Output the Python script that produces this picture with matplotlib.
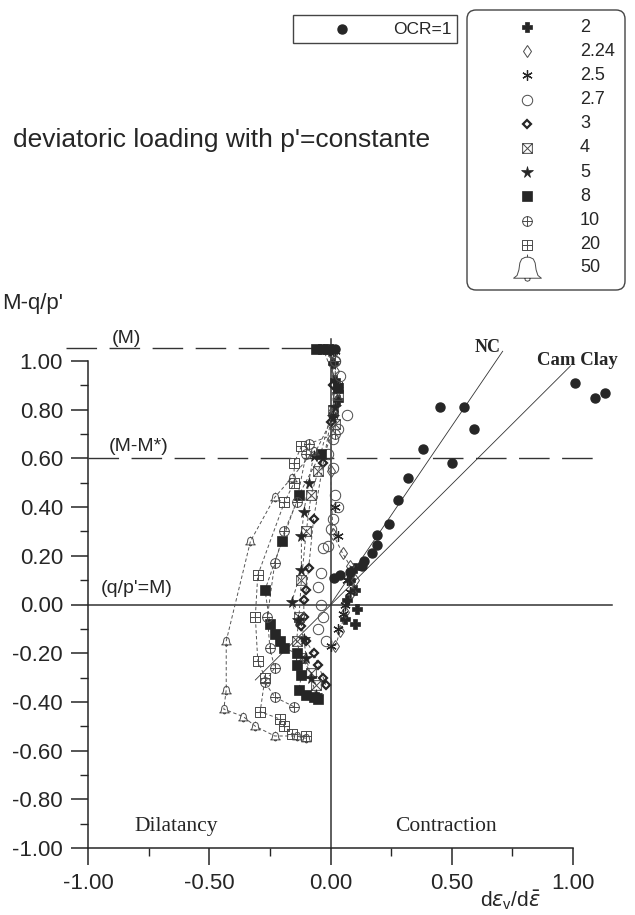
import numpy as np
import matplotlib.pyplot as plt
from matplotlib.path import Path
from matplotlib.patches import FancyBboxPatch, Rectangle

plt.rcParams['font.family'] = ['Liberation Sans', 'DejaVu Sans']
plt.rcParams['axes.unicode_minus'] = False

# --- data: x = d eps_v / d eps, y = M - q/p' ---
ocr1_x = [0.00, 0.02, 0.015, 0.04, 0.08, 0.13, 0.14, 0.17, 0.19, 0.19, 0.24, 0.28, 0.32, 0.50, 0.38, 0.59, 0.45, 0.55, 1.01, 1.09, 1.13]
ocr1_y = [1.05, 1.05, 0.11, 0.12, 0.135, 0.16, 0.18, 0.21, 0.245, 0.285, 0.33, 0.43, 0.52, 0.58, 0.64, 0.72, 0.81, 0.81, 0.91, 0.85, 0.87]

ocr2_x = [0.00, 0.01, 0.02, 0.03, 0.10, 0.08, 0.10, 0.07, 0.11, 0.06, 0.10]
ocr2_y = [1.05, 0.99, 0.92, 0.84, 0.15, 0.10, 0.06, 0.02, -0.02, -0.06, -0.08]

ocr224_x = [0.01, 0.02, 0.01, 0.00, 0.01, 0.05, 0.08, 0.10, 0.09, 0.06, 0.04, 0.02]
ocr224_y = [1.03, 0.96, 0.80, 0.55, 0.29, 0.21, 0.16, 0.10, 0.05, -0.03, -0.11, -0.17]

ocr25_x = [0.02, 0.03, 0.01, 0.02, 0.03, 0.07, 0.08, 0.06, 0.05, 0.03, 0.00]
ocr25_y = [1.04, 0.90, 0.78, 0.40, 0.28, 0.10, 0.05, 0.00, -0.04, -0.10, -0.17]

ocr27_x = [0.02, 0.04, 0.07, 0.03, 0.01, -0.01, 0.01, 0.02, 0.03, 0.01, 0.00, -0.01, -0.03, -0.04, -0.05, -0.04, -0.03, -0.05, -0.02]
ocr27_y = [1.00, 0.94, 0.78, 0.72, 0.68, 0.62, 0.56, 0.45, 0.40, 0.35, 0.31, 0.24, 0.23, 0.13, 0.07, 0.00, -0.05, -0.10, -0.15]

ocr3_x = [0.00, 0.01, 0.00, -0.03, -0.07, -0.09, -0.10, -0.11, -0.11, -0.12, -0.10, -0.07, -0.05, -0.03, -0.02]
ocr3_y = [1.04, 0.90, 0.75, 0.58, 0.35, 0.15, 0.06, 0.02, -0.05, -0.09, -0.15, -0.20, -0.25, -0.30, -0.33]

ocr4_x = [-0.01, 0.03, 0.01, 0.02, -0.05, -0.08, -0.10, -0.12, -0.13, -0.14, -0.12, -0.08, -0.06]
ocr4_y = [1.05, 0.86, 0.80, 0.74, 0.55, 0.45, 0.30, 0.10, -0.05, -0.15, -0.22, -0.28, -0.33]

ocr5_x = [0.00, 0.02, 0.01, -0.07, -0.09, -0.11, -0.12, -0.12, -0.16, -0.135, -0.11, -0.10, -0.08, -0.06]
ocr5_y = [1.04, 0.81, 0.77, 0.61, 0.50, 0.38, 0.28, 0.14, 0.01, -0.065, -0.14, -0.22, -0.30, -0.37]

ocr8_x = [-0.06, -0.03, 0.03, -0.04, -0.13, -0.20, -0.27, -0.25, -0.23, -0.21, -0.19, -0.14, -0.14, -0.12, -0.13, -0.10, -0.07, -0.05]
ocr8_y = [1.05, 1.05, 0.89, 0.62, 0.45, 0.26, 0.06, -0.08, -0.12, -0.15, -0.18, -0.20, -0.25, -0.29, -0.35, -0.37, -0.38, -0.39]

ocr10_x = [0.02, 0.02, -0.09, -0.10, -0.14, -0.19, -0.23, -0.26, -0.25, -0.23, -0.27, -0.23, -0.15]
ocr10_y = [1.00, 0.70, 0.66, 0.62, 0.42, 0.30, 0.17, -0.05, -0.18, -0.26, -0.32, -0.38, -0.42]

ocr20_x = [-0.12, -0.15, -0.15, -0.19, -0.30, -0.31, -0.30, -0.27, -0.29, -0.21, -0.19, -0.16, -0.10]
ocr20_y = [0.65, 0.58, 0.50, 0.42, 0.12, -0.05, -0.23, -0.30, -0.44, -0.47, -0.50, -0.53, -0.54]

ocr50_x = [-0.07, -0.16, -0.23, -0.33, -0.43, -0.43, -0.44, -0.36, -0.31, -0.23, -0.14, -0.10]
ocr50_y = [0.63, 0.52, 0.44, 0.26, -0.15, -0.35, -0.43, -0.46, -0.50, -0.54, -0.54, -0.55]

ocr_labels = ['2', '2.24', '2.5', '2.7', '3', '4', '5', '8', '10', '20', '50']

# reference lines
m_level = 1.053
m_star_level = 0.60
nc_x = [0.0, 0.71]
nc_y = [0.0, 1.04]
cam_x = [-0.31, 0.99]
cam_y = [-0.31, 0.98]

# --- custom markers ---
MO, LI, CL = Path.MOVETO, Path.LINETO, Path.CLOSEPOLY
hline = Path([[-1, 0], [1, 0]], [MO, LI])
vline = Path([[0, -1], [0, 1]], [MO, LI])
diag1 = Path([[-1, -1], [1, 1]], [MO, LI])
diag2 = Path([[-1, 1], [1, -1]], [MO, LI])
square = Path([[-1, -1], [1, -1], [1, 1], [-1, 1], [-1, -1]], [MO, LI, LI, LI, CL])
circ_plus = Path.make_compound_path(Path.unit_circle(), hline, vline)
sq_plus = Path.make_compound_path(square, hline, vline)
sq_x = Path.make_compound_path(square, diag1, diag2)
bell_out = [(-1, -0.7), (1, -0.7), (0.75, -0.5), (0.62, -0.1), (0.55, 0.4), (0.42, 0.68),
            (0.18, 0.8), (0, 0.82), (-0.18, 0.8), (-0.42, 0.68), (-0.55, 0.4), (-0.62, -0.1),
            (-0.75, -0.5), (-1, -0.7)]
bell = Path.make_compound_path(
    Path(bell_out, [MO] + [LI] * (len(bell_out) - 2) + [CL]),
    Path([[0, 0.82], [0, 1.0]], [MO, LI]),
    Path([(-0.2, -0.7), (-0.15, -0.86), (0, -0.92), (0.15, -0.86), (0.2, -0.7)], [MO, LI, LI, LI, LI]),
)

ink = '#262626'
gray = '#4a4a4a'
styles = [
    dict(m='P', ms=7, mfc=ink, mec=ink, mew=0.5, line=False),
    dict(m='d', ms=6, mfc='none', mec=gray, mew=0.7, line=True),
    dict(m=(6, 2, 0), ms=7.5, mfc='none', mec=ink, mew=0.9, line=False),
    dict(m='o', ms=7.5, mfc='none', mec=gray, mew=0.7, line=False),
    dict(m='D', ms=4.5, mfc='none', mec=ink, mew=1.6, line=True),
    dict(m=sq_x, ms=7, mfc='none', mec=gray, mew=0.7, line=True),
    dict(m='*', ms=8.5, mfc=ink, mec=ink, mew=0.5, line=True),
    dict(m='s', ms=6.5, mfc=ink, mec=ink, mew=0.5, line=True),
    dict(m=circ_plus, ms=7, mfc='none', mec=gray, mew=0.7, line=True),
    dict(m=sq_plus, ms=7, mfc='none', mec=gray, mew=0.7, line=True),
    dict(m=bell, ms=7, mfc='none', mec=gray, mew=0.7, line=True),
]
xs_all = [ocr2_x, ocr224_x, ocr25_x, ocr27_x, ocr3_x, ocr4_x, ocr5_x, ocr8_x, ocr10_x, ocr20_x, ocr50_x]
ys_all = [ocr2_y, ocr224_y, ocr25_y, ocr27_y, ocr3_y, ocr4_y, ocr5_y, ocr8_y, ocr10_y, ocr20_y, ocr50_y]

W, H = 635, 915
fig = plt.figure(figsize=(W / 100, H / 100), dpi=100)
x0, x1 = -1.0, 1.25
y0, y1 = -1.0, 1.15
ax = fig.add_axes([88 / W, (H - 848) / H, (x1 - x0) * 242.5 / W, (y1 - y0) * 243.5 / H])
ax.set_xlim(x0, x1)
ax.set_ylim(y0, y1)
ax.patch.set_alpha(0)

for s in ['top', 'right']:
    ax.spines[s].set_visible(False)
ax.spines['left'].set_bounds(-1, 1)
ax.spines['bottom'].set_bounds(-1, 1)
for s in ['left', 'bottom']:
    ax.spines[s].set_linewidth(1.1)
    ax.spines[s].set_color(ink)


def fmt(v, pos):
    s = f'{v:.2f}'
    return '0.00' if s == '-0.00' else s


ax.set_xticks([-1, -0.5, 0, 0.5, 1])
ax.set_xticks([-0.75, -0.25, 0.25, 0.75], minor=True)
ax.set_yticks(np.round(np.arange(-1, 1.01, 0.2), 2))
ax.set_yticks(np.round(np.arange(-0.9, 1.0, 0.2), 2), minor=True)
ax.xaxis.set_major_formatter(plt.FuncFormatter(fmt))
ax.yaxis.set_major_formatter(plt.FuncFormatter(fmt))
ax.tick_params(which='major', length=12, width=1.1, color=ink, labelsize=16, labelcolor=ink, pad=6)
ax.tick_params(which='minor', length=6, width=1.0, color=ink)

# reference lines
lc = '#333333'
ax.plot([-1.09, 0.0], [m_level, m_level], color=lc, lw=1.0, dashes=(22, 9), clip_on=False, zorder=1)
ax.plot([-1.0, 1.11], [m_star_level, m_star_level], color=lc, lw=1.0, dashes=(22, 9), zorder=1)
ax.plot([-1.0, 1.16], [0, 0], color=lc, lw=1.1, zorder=1)
ax.plot([0, 0], [-1.0, 1.09], color=lc, lw=1.1, zorder=1, clip_on=False)
ax.plot(nc_x, nc_y, color=lc, lw=0.6, zorder=1)
ax.plot(cam_x, cam_y, color=lc, lw=0.6, zorder=1)

# data
for xs, ys, st in zip(xs_all, ys_all, styles):
    if st['line']:
        ax.plot(xs, ys, ls=(0, (3.5, 2.5)), lw=0.7, color='#555555', zorder=2)
    ax.plot(xs, ys, ls='none', marker=st['m'], ms=st['ms'], mfc=st['mfc'],
            mec=st['mec'], mew=st['mew'], zorder=3)
ax.plot(ocr1_x, ocr1_y, ls='none', marker='o', ms=6.5, mfc=ink, mec=ink, zorder=4)

# annotations
ax.text(-0.84, m_level + 0.005, '(M)', fontsize=14, color=ink, ha='center', va='bottom')
ax.text(-0.79, m_star_level + 0.012, '(M-M*)', fontsize=14, color=ink, ha='center', va='bottom')
ax.text(-0.80, 0.047, "(q/p'=M)", fontsize=14, color=ink, ha='center', va='baseline')
serif = ['Liberation Serif', 'DejaVu Serif']
ax.text(0.647, 1.057, 'NC', family=serif, fontweight='bold', fontsize=13, color=ink, ha='center', va='center', clip_on=False)
ax.text(1.02, 1.004, 'Cam Clay', family=serif, fontweight='bold', fontsize=13.5, color=ink, ha='center', va='center', clip_on=False)
ax.text(-0.635, -0.91, 'Dilatancy', family=serif, fontsize=15.5, color=ink, ha='center', va='center')
ax.text(0.475, -0.91, 'Contraction', family=serif, fontsize=15.5, color=ink, ha='center', va='center')

fig.text(63 / W, 1 - 309 / H, "M-q/p'", fontsize=16, color=ink, ha='right', va='baseline')
fig.text(510 / W, 1 - 906 / H, r"d$\varepsilon_\mathregular{v}$/d$\bar{\varepsilon}$", fontsize=15, color=ink,
         ha='center', va='baseline')
fig.text(13 / W, 1 - 147 / H, "deviatoric loading with p'=constante", fontsize=19, color=ink,
         ha='left', va='baseline')

# legends (drawn on an overlay in pixel units)
lax = fig.add_axes([0, 0, 1, 1])
lax.set_xlim(0, W)
lax.set_ylim(H, 0)
lax.axis('off')
lax.add_patch(Rectangle((293, 15), 164, 28, fill=False, ec='#444444', lw=1.0))
lax.plot([342], [29], ls='none', marker='o', ms=6.5, mfc=ink, mec=ink)
lax.text(452, 29, 'OCR=1', fontsize=12.5, color=ink, ha='right', va='center')

lax.add_patch(FancyBboxPatch((467, 10), 158, 280, boxstyle='round,pad=0,rounding_size=9',
                             fill=False, ec='#444444', lw=1.0))
for i, (lab, st) in enumerate(zip(ocr_labels, styles)):
    yy = 27 + i * 24.2
    ms = st['ms'] if lab != '50' else 20
    if lab == '50':
        yy -= 1
    lax.plot([527], [yy], ls='none', marker=st['m'], ms=ms, mfc=st['mfc'], mec=st['mec'], mew=st['mew'])
    lax.text(580, yy, lab, fontsize=13, color=ink, ha='left', va='center')

fig.savefig('out.png', dpi=100, facecolor='white')
